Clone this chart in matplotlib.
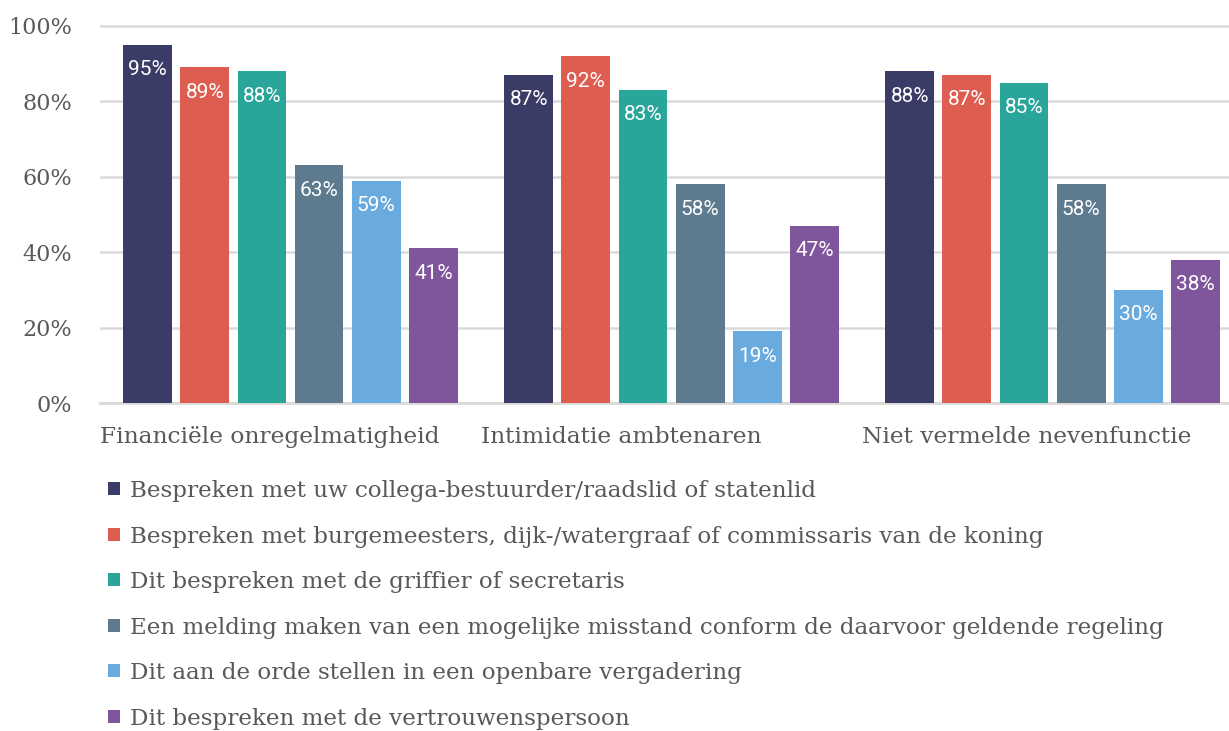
import numpy as np
import matplotlib
matplotlib.use("Agg")
import matplotlib.pyplot as plt

categories = ["Financiële onregelmatigheid", "Intimidatie ambtenaren", "Niet vermelde nevenfunctie"]
series = [
    "Bespreken met uw collega-bestuurder/raadslid of statenlid",
    "Bespreken met burgemeesters, dijk-/watergraaf of commissaris van de koning",
    "Dit bespreken met de griffier of secretaris",
    "Een melding maken van een mogelijke misstand conform de daarvoor geldende regeling",
    "Dit aan de orde stellen in een openbare vergadering",
    "Dit bespreken met de vertrouwenspersoon",
]
values = [
    [95, 87, 88],
    [89, 92, 87],
    [88, 83, 85],
    [63, 58, 58],
    [59, 19, 30],
    [41, 47, 38],
]
colors = ["#3a3b66", "#dd5e51", "#2aa59a", "#5e7a8f", "#69abdf", "#7f559c"]
yticks = [0, 20, 40, 60, 80, 100]

serif = "DejaVu Serif"
grey = "#595959"

fig = plt.figure(figsize=(12.29, 7.31), dpi=100)
ax = fig.add_axes([100 / 1229, 1 - 403 / 731, 1129 / 1229, (403 - 22.2) / 731])

x = np.arange(len(categories))
width = 0.128
step = 0.15
handles = []
for i, (name, vals, c) in enumerate(zip(series, values, colors)):
    pos = x + (i - 2.5) * step
    b = ax.bar(pos, vals, width, color=c, label=name, zorder=3)
    handles.append(b)
    for p, v in zip(pos, vals):
        ax.text(p, v - 6.6, f"{v}%", ha="center", va="center", color="white",
                fontsize=15, family="Roboto", zorder=4)

ax.set_ylim(0, 101)
ax.set_xlim(-0.5, 2.463)
ax.set_yticks(yticks)
ax.set_yticklabels([f"{t}%" for t in yticks], family=serif, fontsize=16, color=grey)
ax.tick_params(axis="y", length=0, pad=20)
ax.set_xticks([])
ax.grid(axis="y", color="#dadada", lw=1.8, zorder=0)
for s in ["top", "right", "left"]:
    ax.spines[s].set_visible(False)
ax.spines["bottom"].set_color("#dadada")
ax.spines["bottom"].set_linewidth(2)

for xi, cat in zip(x, categories):
    ax.text(xi - 0.5, -9, cat, ha="left", va="center", family=serif,
            fontsize=16.8, color=grey, transform=ax.transData)

leg = fig.legend(handles=handles, loc="upper left", bbox_to_anchor=(108 / 1229, 1 - 480 / 731),
                 frameon=False, prop={"family": serif, "size": 16.6}, labelcolor=grey,
                 handlelength=0.5, handleheight=0.5, handletextpad=0.45,
                 labelspacing=1.02, borderpad=0, borderaxespad=0)

fig.savefig("out.png", dpi=100)
